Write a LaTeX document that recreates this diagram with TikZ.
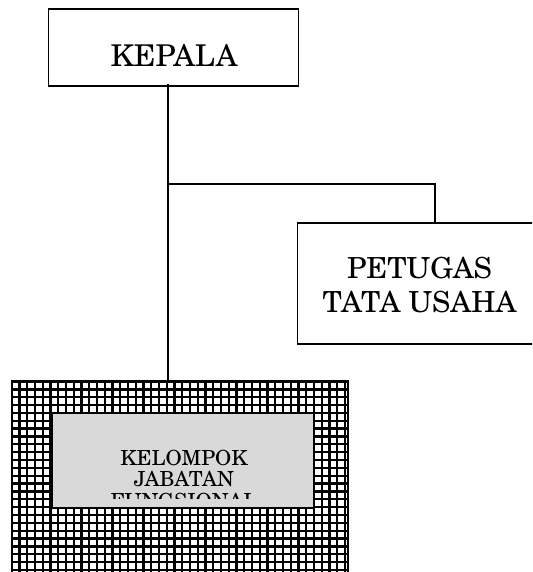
\documentclass[tikz,border=0pt]{standalone}
\usepackage{fontspec}
\setmainfont{texgyreschola-regular}[Extension=.otf]
\begin{document}
\begin{tikzpicture}[x=1pt,y=-1pt,
  boxline/.style={draw=black,line width=1.5pt},
  gridline/.style={draw=black,line width=2.3pt},
  bigtext/.style={font=\fontsize{29}{34}\selectfont,inner sep=0pt,anchor=base,align=center},
  smalltext/.style={font=\fontsize{20.8}{21.8}\selectfont,inner sep=0pt,anchor=base,align=center},
  conn/.style={draw=black,line width=2.3pt}]
\useasboundingbox (0,0) rectangle (532,572);
\clip (0,0) rectangle (532,572);
% boxes
\node[boxline,fill=white,rectangle,minimum width=249.8pt,minimum height=77pt,inner sep=0pt] (kepala) at (173.6,47.5) {};
\node[bigtext,font=\fontsize{30}{34}\selectfont] (kepalatxt) at (174,67) {KEPALA};
\node[boxline,fill=white,rectangle,minimum width=243.3pt,minimum height=121pt,inner sep=0pt] (petugas) at (419.35,283.5) {};
\node[bigtext] (petugastxt) at (419.5,312) {PETUGAS\\TATA USAHA};
% hatched outer box
\node[rectangle,fill=white,minimum width=336.3pt,minimum height=219pt,inner sep=0pt] (outer) at (179.85,490.5) {};
\begin{scope}
\clip (outer.south west) rectangle (outer.north east);
\foreach \i in {0,...,44}{
  \draw[gridline] (11.7+\i*7.75,381) -- (11.7+\i*7.75,600);
}
\foreach \j in {0,...,28}{
  \draw[gridline] (11.7,381.5+\j*7.85) -- (348,381.5+\j*7.85);
}
\end{scope}
\draw[boxline] (outer.south west) rectangle (outer.north east);
% inner box
\node[boxline,fill=black!15,rectangle,minimum width=261.3pt,minimum height=95pt,inner sep=0pt] (inner) at (183.35,460.5) {};
\begin{scope}
\clip (inner.north west) rectangle (314,498.3);
\node[smalltext] (innertxt) at (184,508.6) {KELOMPOK\\JABATAN\\FUNGSIONAL};
\end{scope}
% connectors
\coordinate (j) at (168,184);
\coordinate (k) at (435,184);
\draw[conn,line width=2.8pt] ([yshift=3pt]kepala.south -| j) -- (outer.north -| j);
\draw[conn,line width=2.2pt] (j) -- (k) -- (k |- petugas.north);
\end{tikzpicture}
\end{document}
